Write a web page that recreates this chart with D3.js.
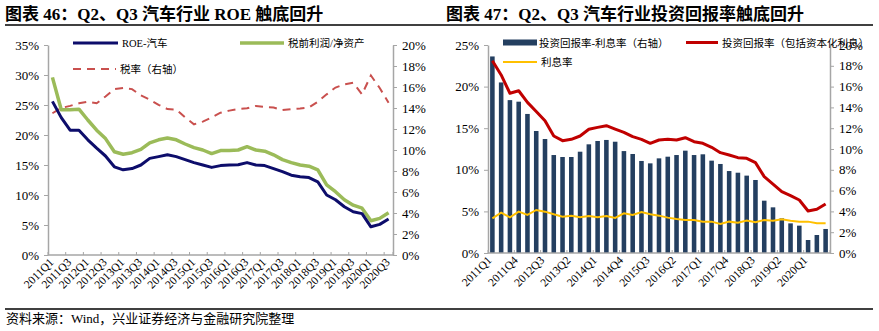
<!DOCTYPE html>
<html>
<head>
<meta charset="utf-8">
<script src="https://cdn.jsdelivr.net/npm/d3@7/dist/d3.min.js"></script>
<style>
body { margin: 0; background: #fff; }
svg text { font-family: "Liberation Serif", "Times New Roman", "Noto Sans CJK SC", serif; fill: #000; }
</style>
</head>
<body>
<svg id="chart" width="879" height="331"></svg>
<script>
// quarters shared by both panels
var quarters = ["2011Q1","2011Q2","2011Q3","2011Q4","2012Q1","2012Q2","2012Q3","2012Q4",
    "2013Q1","2013Q2","2013Q3","2013Q4","2014Q1","2014Q2","2014Q3","2014Q4",
    "2015Q1","2015Q2","2015Q3","2015Q4","2016Q1","2016Q2","2016Q3","2016Q4",
    "2017Q1","2017Q2","2017Q3","2017Q4","2018Q1","2018Q2","2018Q3","2018Q4",
    "2019Q1","2019Q2","2019Q3","2019Q4","2020Q1","2020Q2","2020Q3"];

// figure 46 (%)
var roe = [25.6,22.9,20.8,20.8,19.2,17.8,16.5,14.7,14.2,14.4,15.0,16.1,16.4,16.7,16.4,15.9,
    15.4,15.0,14.6,14.9,15.0,15.05,15.4,15.0,14.9,14.4,13.9,13.3,13.05,12.9,12.2,10.0,
    9.2,8.05,7.2,6.9,4.7,5.1,6.0];
var pretaxRoe = [29.6,24.2,24.2,24.3,22.5,20.8,19.4,17.2,16.8,17.05,17.6,18.7,19.2,19.5,19.2,18.5,
    17.9,17.5,16.9,17.4,17.4,17.5,18.05,17.5,17.3,16.7,15.9,15.4,15.0,14.8,14.2,11.7,
    10.55,9.2,8.3,7.8,5.7,6.1,7.05];
var taxRate = [13.5,14.0,14.2,14.45,14.6,14.45,15.1,15.8,15.9,15.8,15.2,14.8,14.3,13.9,13.85,13.1,
    12.45,12.7,13.1,13.55,13.75,13.9,13.97,14.2,14.1,14.05,13.8,13.9,13.95,14.05,14.6,15.3,
    15.95,16.25,16.4,15.3,17.1,15.9,14.5];
var ticks46Left = [0,5,10,15,20,25,30,35];
var ticks46Right = [0,2,4,6,8,10,12,14,16,18,20];

// figure 47 (%)
var spread = [18.9,16.4,14.7,14.55,13.37,11.73,10.96,9.42,9.23,9.23,9.74,10.45,10.77,10.87,10.7,9.8,
    9.52,8.85,8.62,9.1,9.26,9.42,9.84,9.42,9.49,8.88,8.56,7.88,7.72,7.44,7.02,5.03,
    4.39,3.33,2.85,2.63,1.25,1.73,2.31];
var investReturn = [23.1,21.4,19.2,19.5,18.1,17.0,15.9,14.06,13.5,13.66,14.06,14.87,15.1,15.3,14.9,14.5,
    13.98,13.66,13.18,13.58,13.66,13.58,13.86,13.38,13.18,12.7,12.06,11.78,11.46,11.38,10.86,9.18,
    8.29,7.37,6.89,6.37,5.05,5.25,5.89];
var interestRate = [4.17,4.85,4.29,4.97,4.57,5.17,4.97,4.65,4.37,4.49,4.29,4.45,4.29,4.45,4.21,4.77,
    4.57,4.93,4.65,4.49,4.25,4.09,3.97,3.97,3.77,3.77,3.49,3.77,3.65,3.89,3.69,3.97,
    3.89,4.05,3.89,3.77,3.77,3.57,3.57];
var ticks47Left = [0,5,10,15,20,25];
var ticks47Right = [0,2,4,6,8,10,12,14,16,18,20];

var svg = d3.select("#chart");
var axisColor = "#a6a6a6";
var pct = function(d){ return d + "%"; };

// headers and rules
svg.append("line").attr("x1",5).attr("x2",873).attr("y1",25).attr("y2",25)
    .attr("stroke","#000").attr("stroke-width",1.3);
svg.append("line").attr("x1",5).attr("x2",873).attr("y1",309).attr("y2",309)
    .attr("stroke","#000").attr("stroke-width",1.3);
svg.append("text").attr("x",5).attr("y",20).attr("font-size","17px").attr("font-weight","bold")
    .text("图表 46：Q2、Q3 汽车行业 ROE 触底回升");
svg.append("text").attr("x",446).attr("y",20).attr("font-size","17px").attr("font-weight","bold")
    .text("图表 47：Q2、Q3 汽车行业投资回报率触底回升");
svg.append("text").attr("x",6).attr("y",323).attr("font-size","13px")
    .text("资料来源：Wind，兴业证券经济与金融研究院整理");

function drawYAxis(scale, ticks, xPos, side) {
    var ax = (side == "left" ? d3.axisLeft(scale) : d3.axisRight(scale))
        .tickValues(ticks).tickFormat(pct).tickSize(4).tickSizeOuter(0).tickPadding(5);
    var g = svg.append("g").attr("transform","translate(" + xPos + ",0)").call(ax);
    g.select(".domain").attr("stroke",axisColor).attr("stroke-width",1.5);
    g.selectAll(".tick line").attr("stroke",axisColor);
    g.selectAll(".tick text").attr("font-size","13px").attr("fill","#000")
        .attr("font-family","Liberation Serif, serif");
    return g;
}

function drawXAxis(x, yPos, step, labelDx) {
    var r = x.range();
    svg.append("line").attr("x1",r[0]).attr("x2",r[1]).attr("y1",yPos).attr("y2",yPos)
        .attr("stroke",axisColor).attr("stroke-width",1.5);
    var marks = quarters.filter(function(d,i){ return i % step == 0; });
    svg.append("g").selectAll("line").data(marks.concat(["end"])).enter().append("line")
        .attr("x1",function(d){ return d == "end" ? r[1] : x(d); })
        .attr("x2",function(d){ return d == "end" ? r[1] : x(d); })
        .attr("y1",yPos).attr("y2",yPos - 3)
        .attr("stroke",axisColor);
    svg.append("g").selectAll("text").data(marks).enter().append("text")
        .attr("transform",function(d){
            return "translate(" + (x(d) + x.bandwidth()/2 + labelDx) + "," + (yPos + 8) + ") rotate(-45)";
        })
        .attr("text-anchor","end")
        .attr("font-size","11.5px")
        .text(function(d){ return d; });
}

function legendLine(x1, x2, y, color, width, dash, label) {
    svg.append("line").attr("x1",x1).attr("x2",x2).attr("y1",y).attr("y2",y)
        .attr("stroke",color).attr("stroke-width",width)
        .attr("stroke-dasharray",dash || null);
    svg.append("text").attr("x",x2 + 4).attr("y",y + 4).attr("font-size","10.5px").text(label);
}

// ---------- figure 46 ----------
(function(){
    var x = d3.scaleBand().domain(quarters).range([48,393]);
    var yL = d3.scaleLinear().domain([0,35]).range([255,45]);
    var yR = d3.scaleLinear().domain([0,20]).range([255,45]);
    var cx = function(d,i){ return x(quarters[i]) + x.bandwidth()/2; };

    drawYAxis(yL, ticks46Left, 48, "left");
    drawYAxis(yR, ticks46Right, 393, "right");
    drawXAxis(x, 255, 2, 2);

    var lineL = d3.line().x(cx).y(function(d){ return yL(d); });
    var lineR = d3.line().x(cx).y(function(d){ return yR(d); });

    svg.append("path").datum(taxRate).attr("d",lineR).attr("fill","none")
        .attr("stroke","#c9504e").attr("stroke-width",2).attr("stroke-dasharray","8,6");
    svg.append("path").datum(pretaxRoe).attr("d",lineL).attr("fill","none")
        .attr("stroke","#9bbb59").attr("stroke-width",3.5).attr("stroke-linejoin","round");
    svg.append("path").datum(roe).attr("d",lineL).attr("fill","none")
        .attr("stroke","#0d0d6b").attr("stroke-width",3).attr("stroke-linejoin","round");

    legendLine(73,118,43,"#0d0d6b",3,null,"ROE-汽车");
    legendLine(240,284,43,"#9bbb59",3.5,null,"税前利润/净资产");
    legendLine(73,116,69,"#c9504e",2,"8,6","税率（右轴）");
})();

// ---------- figure 47 ----------
(function(){
    var x = d3.scaleBand().domain(quarters).range([488,830]);
    var yL = d3.scaleLinear().domain([0,25]).range([253,45]);
    var yR = d3.scaleLinear().domain([0,20]).range([253,45]);
    var cx = function(d,i){ return x(quarters[i]) + x.bandwidth()/2; };
    var bw = x.bandwidth() * 0.52;

    svg.append("g").selectAll("rect").data(spread).enter().append("rect")
        .attr("x",function(d,i){ return cx(d,i) - bw/2; })
        .attr("y",function(d){ return yR(d); })
        .attr("width",bw)
        .attr("height",function(d){ return yR(0) - yR(d); })
        .attr("fill","#243f60");

    drawYAxis(yL, ticks47Left, 488, "left");
    drawYAxis(yR, ticks47Right, 830, "right");
    drawXAxis(x, 253, 3, 0);

    var lineL = d3.line().x(cx).y(function(d){ return yL(d); });
    svg.append("path").datum(interestRate).attr("d",lineL).attr("fill","none")
        .attr("stroke","#ffc000").attr("stroke-width",2);
    svg.append("path").datum(investReturn).attr("d",lineL).attr("fill","none")
        .attr("stroke","#c00000").attr("stroke-width",3).attr("stroke-linejoin","round");

    svg.append("rect").attr("x",503).attr("y",39.5).attr("width",34).attr("height",6).attr("fill","#243f60");
    svg.append("text").attr("x",539).attr("y",46.5).attr("font-size","10.5px").text("投资回报率-利息率（右轴）");
    legendLine(503,537,62,"#ffc000",2,null,"利息率");
    legendLine(686,718,42.5,"#c00000",3,null,"投资回报率（包括资本化利息）");
})();
</script>
</body>
</html>
